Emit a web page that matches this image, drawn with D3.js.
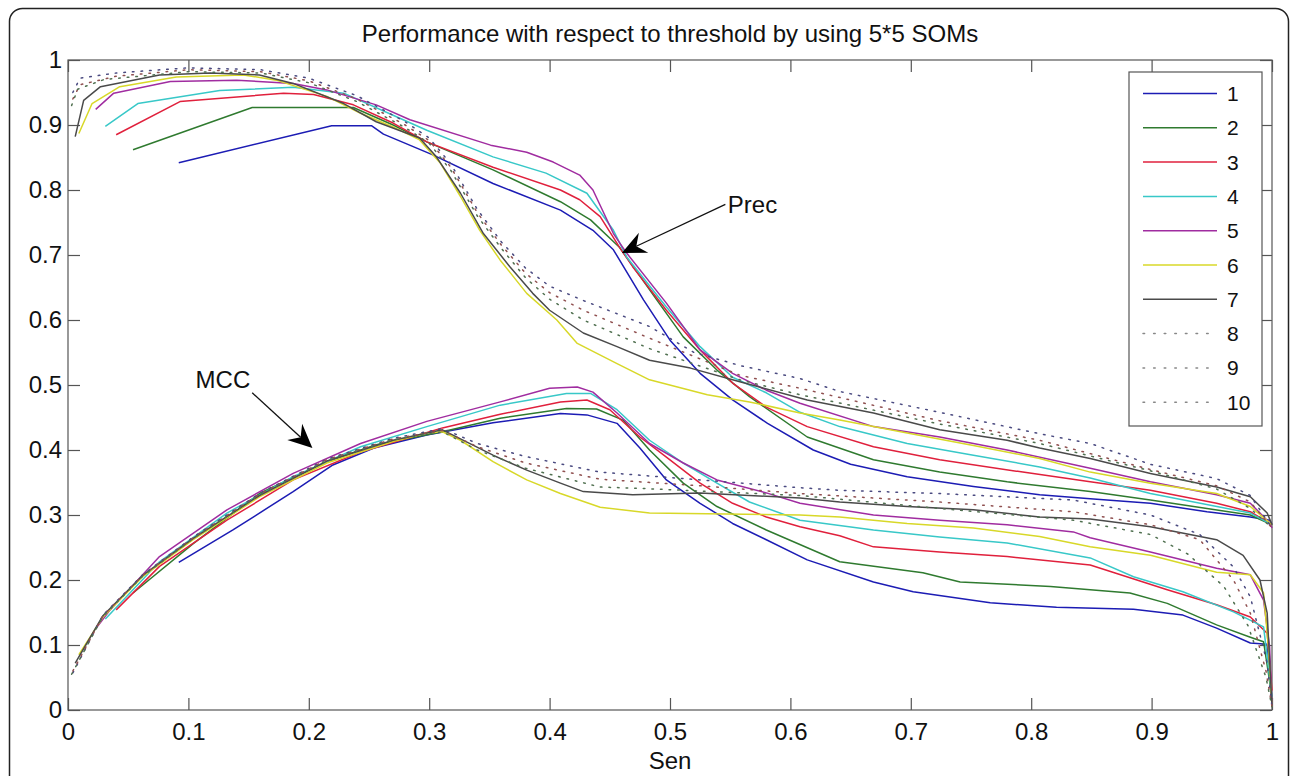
<!DOCTYPE html>
<html>
<head>
<meta charset="utf-8">
<title>Performance with respect to threshold</title>
<script src="https://cdn.jsdelivr.net/npm/d3@7"></script>
<style>
    body { margin: 0; background: white; }
    .frame { fill: none; stroke: #222; stroke-width: 1.5px; }
    .box { fill: none; stroke: #555; stroke-width: 1.2px; }
    .axis path { stroke: #555; stroke-width: 1.2px; }
    .axis line { stroke: #555; stroke-width: 1.2px; }
    .axis text { font-family: "Liberation Sans", Arial, sans-serif; font-size: 24px; fill: #111; }
    .title, .xlabel, .note { font-family: "Liberation Sans", Arial, sans-serif; font-size: 24px; fill: #111; }
    .curve { fill: none; stroke-width: 1.5px; stroke-linejoin: round; }
    .legendText { font-family: "Liberation Sans", Arial, sans-serif; font-size: 21px; fill: #111; }
</style>
</head>
<body>
<script>
// tick values
const xTicks = [0, 0.1, 0.2, 0.3, 0.4, 0.5, 0.6, 0.7, 0.8, 0.9, 1];
const yTicks = [0, 0.1, 0.2, 0.3, 0.4, 0.5, 0.6, 0.7, 0.8, 0.9, 1];
const seriesNames = ["1", "2", "3", "4", "5", "6", "7", "8", "9", "10"];

// Prec curves, [Sen, Prec]
const prec1 = [[0.092,0.842],[0.219,0.899],[0.252,0.899],[0.262,0.886],[0.303,0.854],[0.353,0.81],[0.409,0.769],[0.436,0.738],[0.453,0.708],[0.478,0.631],[0.5,0.569],[0.525,0.518],[0.552,0.477],[0.581,0.441],[0.619,0.4],[0.65,0.378],[0.697,0.359],[0.752,0.344],[0.807,0.331],[0.849,0.325],[0.899,0.318],[0.946,0.305],[0.982,0.297],[0.998,0.292],[1,0.285]];
const prec2 = [[0.054,0.862],[0.153,0.927],[0.237,0.927],[0.27,0.9],[0.298,0.874],[0.353,0.831],[0.409,0.782],[0.434,0.754],[0.458,0.712],[0.489,0.631],[0.511,0.574],[0.539,0.523],[0.566,0.482],[0.614,0.42],[0.669,0.385],[0.724,0.366],[0.78,0.351],[0.849,0.336],[0.899,0.323],[0.982,0.3],[1,0.285]];
const prec3 = [[0.04,0.885],[0.093,0.936],[0.179,0.949],[0.204,0.947],[0.237,0.931],[0.27,0.903],[0.298,0.874],[0.353,0.835],[0.409,0.8],[0.425,0.785],[0.442,0.759],[0.458,0.712],[0.469,0.682],[0.497,0.615],[0.525,0.554],[0.552,0.503],[0.58,0.466],[0.614,0.436],[0.669,0.405],[0.724,0.385],[0.793,0.366],[0.849,0.351],[0.899,0.338],[0.954,0.318],[0.982,0.305],[1,0.285]];
const prec4 = [[0.031,0.898],[0.058,0.933],[0.126,0.953],[0.187,0.958],[0.229,0.949],[0.27,0.915],[0.298,0.892],[0.353,0.851],[0.397,0.826],[0.431,0.795],[0.453,0.738],[0.464,0.697],[0.497,0.62],[0.525,0.559],[0.552,0.512],[0.58,0.488],[0.608,0.458],[0.641,0.436],[0.697,0.41],[0.752,0.392],[0.807,0.374],[0.849,0.357],[0.899,0.333],[0.982,0.303],[1,0.285]];
const prec5 = [[0.023,0.924],[0.038,0.949],[0.085,0.967],[0.14,0.969],[0.187,0.964],[0.215,0.954],[0.256,0.931],[0.284,0.908],[0.351,0.869],[0.381,0.858],[0.403,0.843],[0.425,0.823],[0.436,0.8],[0.453,0.733],[0.464,0.703],[0.497,0.626],[0.525,0.554],[0.552,0.518],[0.58,0.492],[0.608,0.472],[0.669,0.436],[0.724,0.42],[0.78,0.4],[0.849,0.372],[0.899,0.351],[0.954,0.331],[0.982,0.318],[0.998,0.288],[1,0.28]];
const prec6 = [[0.009,0.887],[0.02,0.933],[0.043,0.959],[0.09,0.974],[0.146,0.977],[0.173,0.969],[0.215,0.944],[0.243,0.918],[0.27,0.897],[0.292,0.877],[0.309,0.842],[0.326,0.79],[0.342,0.738],[0.359,0.692],[0.381,0.641],[0.406,0.6],[0.423,0.564],[0.456,0.533],[0.483,0.508],[0.531,0.485],[0.566,0.474],[0.608,0.457],[0.641,0.446],[0.697,0.426],[0.752,0.407],[0.807,0.387],[0.849,0.366],[0.899,0.349],[0.954,0.333],[0.982,0.313],[1,0.285]];
const prec7 = [[0.006,0.882],[0.013,0.938],[0.027,0.959],[0.076,0.977],[0.118,0.98],[0.159,0.977],[0.187,0.964],[0.229,0.933],[0.256,0.905],[0.292,0.88],[0.306,0.851],[0.326,0.795],[0.345,0.733],[0.367,0.682],[0.386,0.641],[0.4,0.615],[0.428,0.58],[0.456,0.559],[0.483,0.538],[0.517,0.526],[0.558,0.505],[0.614,0.477],[0.669,0.457],[0.724,0.431],[0.78,0.415],[0.807,0.403],[0.849,0.387],[0.899,0.364],[0.954,0.343],[0.982,0.328],[0.996,0.303],[1,0.285]];
const prec8 = [[0.004,0.95],[0.01,0.972],[0.04,0.98],[0.1,0.988],[0.16,0.985],[0.2,0.972],[0.24,0.945],[0.28,0.905],[0.3,0.88],[0.318,0.84],[0.34,0.77],[0.36,0.72],[0.38,0.68],[0.4,0.652],[0.428,0.63],[0.483,0.59],[0.52,0.55],[0.558,0.53],[0.608,0.51],[0.641,0.49],[0.724,0.458],[0.807,0.425],[0.849,0.41],[0.899,0.378],[0.954,0.356],[0.982,0.33],[1,0.28]];
const prec9 = [[0.004,0.94],[0.01,0.962],[0.04,0.975],[0.1,0.985],[0.16,0.982],[0.2,0.968],[0.24,0.94],[0.28,0.9],[0.3,0.876],[0.318,0.835],[0.34,0.765],[0.36,0.715],[0.38,0.672],[0.4,0.642],[0.428,0.615],[0.483,0.572],[0.558,0.515],[0.608,0.495],[0.724,0.445],[0.807,0.415],[0.899,0.37],[0.954,0.345],[0.982,0.32],[1,0.28]];
const prec10 = [[0.003,0.93],[0.008,0.955],[0.03,0.97],[0.1,0.982],[0.16,0.98],[0.2,0.965],[0.24,0.936],[0.28,0.896],[0.3,0.872],[0.318,0.83],[0.34,0.76],[0.36,0.71],[0.38,0.665],[0.4,0.632],[0.428,0.6],[0.483,0.556],[0.558,0.508],[0.608,0.485],[0.724,0.44],[0.807,0.41],[0.899,0.368],[0.954,0.34],[0.982,0.31],[1,0.28]];

// MCC curves, [Sen, MCC]
const mcc1 = [[0.092,0.227],[0.137,0.277],[0.187,0.336],[0.22,0.377],[0.254,0.403],[0.298,0.423],[0.353,0.442],[0.409,0.456],[0.431,0.454],[0.456,0.441],[0.475,0.403],[0.497,0.354],[0.525,0.318],[0.552,0.287],[0.58,0.262],[0.614,0.231],[0.669,0.197],[0.702,0.182],[0.766,0.165],[0.821,0.158],[0.885,0.155],[0.926,0.146],[0.954,0.126],[0.982,0.103],[0.996,0.101],[1,0.01]];
const mcc2 = [[0.054,0.18],[0.104,0.256],[0.159,0.333],[0.215,0.382],[0.256,0.408],[0.311,0.428],[0.359,0.449],[0.414,0.464],[0.439,0.463],[0.461,0.446],[0.483,0.4],[0.511,0.349],[0.539,0.313],[0.58,0.277],[0.641,0.228],[0.71,0.211],[0.741,0.197],[0.816,0.19],[0.882,0.18],[0.913,0.164],[0.954,0.131],[0.982,0.112],[0.993,0.105],[1,0.02]];
const mcc3 = [[0.04,0.154],[0.076,0.221],[0.132,0.292],[0.187,0.354],[0.243,0.397],[0.311,0.434],[0.359,0.455],[0.409,0.474],[0.431,0.477],[0.45,0.462],[0.475,0.42],[0.497,0.389],[0.525,0.349],[0.552,0.318],[0.58,0.297],[0.608,0.282],[0.641,0.268],[0.669,0.251],[0.724,0.243],[0.78,0.236],[0.849,0.223],[0.871,0.21],[0.913,0.185],[0.954,0.162],[0.982,0.143],[0.996,0.118],[1,0.03]];
const mcc4 = [[0.031,0.14],[0.076,0.228],[0.132,0.303],[0.187,0.359],[0.243,0.405],[0.298,0.436],[0.359,0.469],[0.414,0.487],[0.434,0.487],[0.456,0.462],[0.483,0.415],[0.511,0.38],[0.539,0.349],[0.566,0.32],[0.608,0.292],[0.669,0.277],[0.724,0.266],[0.78,0.257],[0.849,0.234],[0.885,0.205],[0.926,0.182],[0.968,0.151],[0.993,0.128],[1,0.02]];
const mcc5 = [[0.023,0.125],[0.035,0.154],[0.076,0.236],[0.132,0.308],[0.187,0.364],[0.243,0.41],[0.298,0.444],[0.359,0.474],[0.4,0.495],[0.423,0.497],[0.436,0.489],[0.456,0.457],[0.483,0.41],[0.511,0.38],[0.539,0.354],[0.58,0.334],[0.608,0.318],[0.669,0.3],[0.724,0.292],[0.78,0.285],[0.835,0.274],[0.849,0.265],[0.899,0.243],[0.954,0.218],[0.982,0.208],[0.993,0.169],[0.998,0.097],[1,0.005]];
const mcc6 = [[0.009,0.085],[0.029,0.143],[0.062,0.205],[0.104,0.262],[0.159,0.328],[0.215,0.38],[0.27,0.413],[0.298,0.426],[0.311,0.428],[0.326,0.415],[0.353,0.382],[0.381,0.354],[0.409,0.333],[0.442,0.312],[0.483,0.303],[0.608,0.3],[0.641,0.297],[0.697,0.287],[0.752,0.28],[0.807,0.267],[0.849,0.251],[0.899,0.238],[0.954,0.212],[0.982,0.208],[0.993,0.18],[0.997,0.097],[1,0.005]];
const mcc7 = [[0.006,0.072],[0.029,0.145],[0.062,0.207],[0.104,0.264],[0.159,0.33],[0.215,0.383],[0.27,0.415],[0.311,0.431],[0.353,0.392],[0.381,0.369],[0.409,0.349],[0.428,0.336],[0.469,0.331],[0.525,0.334],[0.608,0.326],[0.641,0.32],[0.697,0.313],[0.752,0.308],[0.807,0.297],[0.849,0.294],[0.899,0.282],[0.954,0.262],[0.976,0.238],[0.99,0.2],[0.996,0.149],[1,0.005]];
const mcc8 = [[0.004,0.057],[0.029,0.146],[0.062,0.208],[0.104,0.266],[0.159,0.333],[0.215,0.386],[0.27,0.418],[0.311,0.433],[0.34,0.41],[0.38,0.39],[0.442,0.366],[0.525,0.354],[0.608,0.342],[0.641,0.338],[0.724,0.333],[0.835,0.323],[0.899,0.3],[0.94,0.27],[0.968,0.22],[0.982,0.174],[0.996,0.072],[1,0.005]];
const mcc9 = [[0.004,0.06],[0.029,0.145],[0.062,0.207],[0.104,0.265],[0.159,0.332],[0.215,0.385],[0.27,0.417],[0.311,0.43],[0.34,0.405],[0.38,0.38],[0.442,0.355],[0.525,0.345],[0.608,0.333],[0.724,0.32],[0.835,0.305],[0.899,0.285],[0.94,0.262],[0.968,0.2],[0.982,0.149],[0.995,0.06],[1,0.005]];
const mcc10 = [[0.003,0.055],[0.029,0.144],[0.062,0.206],[0.104,0.264],[0.159,0.331],[0.215,0.384],[0.27,0.416],[0.311,0.428],[0.34,0.4],[0.38,0.372],[0.442,0.343],[0.475,0.341],[0.608,0.33],[0.724,0.31],[0.835,0.292],[0.899,0.27],[0.93,0.24],[0.96,0.19],[0.98,0.13],[0.995,0.05],[1,0.005]];

const precSeries = [prec1, prec2, prec3, prec4, prec5, prec6, prec7, prec8, prec9, prec10];
const mccSeries = [mcc1, mcc2, mcc3, mcc4, mcc5, mcc6, mcc7, mcc8, mcc9, mcc10];

// styles per series
const colors = ["#1c1cb4", "#2f7a2f", "#e0203c", "#38c8c8", "#a02ca0", "#d8d828", "#4a4a4a", "#4a4a80", "#905050", "#507050"];
const dotted = [false, false, false, false, false, false, false, true, true, true];

// annotations in data coordinates
const precLabel = {text: "Prec", x: 0.548, y: 0.765, from: [0.546, 0.778], to: [0.46, 0.703]};
const mccLabel = {text: "MCC", x: 0.106, y: 0.495, from: [0.153, 0.488], to: [0.203, 0.403]};

const W = 1292, H = 776;
const svg = d3.select("body").append("svg").attr("width", W).attr("height", H);
svg.append("rect").attr("width", W).attr("height", H).attr("fill", "white");
svg.append("rect").attr("class", "frame")
    .attr("x", 9.5).attr("y", 8.5).attr("width", 1279).attr("height", 830).attr("rx", 13);

const x = d3.scaleLinear().domain([0, 1]).range([68, 1272]);
const y = d3.scaleLinear().domain([0, 1]).range([710, 60]);

svg.append("text").attr("class", "title")
    .attr("x", (x(0) + x(1)) / 2).attr("y", 42).attr("text-anchor", "middle")
    .text("Performance with respect to threshold by using 5*5 SOMs");

const fmt = d3.format("~g");

svg.append("g").attr("class", "axis").attr("transform", "translate(0," + y(0) + ")")
    .call(d3.axisBottom(x).tickValues(xTicks).tickSize(-12).tickSizeOuter(0).tickPadding(13).tickFormat(fmt));
svg.append("g").attr("class", "axis").attr("transform", "translate(" + x(0) + ",0)")
    .call(d3.axisLeft(y).tickValues(yTicks).tickSize(-12).tickSizeOuter(0).tickPadding(6).tickFormat(fmt));
svg.append("g").attr("class", "axis").attr("transform", "translate(0," + y(1) + ")")
    .call(d3.axisTop(x).tickValues(xTicks).tickSize(-12).tickSizeOuter(0).tickFormat(""));
svg.append("g").attr("class", "axis").attr("transform", "translate(" + x(1) + ",0)")
    .call(d3.axisRight(y).tickValues(yTicks).tickSize(-12).tickSizeOuter(0).tickFormat(""));
svg.selectAll(".axis .domain").remove();
svg.append("rect").attr("class", "box")
    .attr("x", x(0)).attr("y", y(1)).attr("width", x(1) - x(0)).attr("height", y(0) - y(1));

svg.append("text").attr("class", "xlabel")
    .attr("x", (x(0) + x(1)) / 2).attr("y", 769).attr("text-anchor", "middle").text("Sen");

const line = d3.line().x(d => x(d[0])).y(d => y(d[1]));
const plot = svg.append("g");

function drawSet(set) {
    plot.selectAll(null).data(set).enter().append("path")
        .attr("class", "curve")
        .attr("d", line)
        .attr("stroke", (d, i) => colors[i])
        .attr("stroke-dasharray", (d, i) => dotted[i] ? "1.6,7" : null)
        .attr("stroke-linecap", (d, i) => dotted[i] ? "round" : "butt");
}
drawSet(precSeries);
drawSet(mccSeries);

// arrows
function arrow(a) {
    const sx = x(a.from[0]), sy = y(a.from[1]), tx = x(a.to[0]), ty = y(a.to[1]);
    const ang = Math.atan2(ty - sy, tx - sx);
    const len = 24, half = 11, back = 16;
    const bx = tx - len * Math.cos(ang), by = ty - len * Math.sin(ang);
    const nx = -Math.sin(ang), ny = Math.cos(ang);
    const mx = tx - back * Math.cos(ang), my = ty - back * Math.sin(ang);
    svg.append("line").attr("x1", sx).attr("y1", sy).attr("x2", mx).attr("y2", my)
        .attr("stroke", "#111").attr("stroke-width", 1.3);
    svg.append("path")
        .attr("d", "M" + tx + "," + ty + "L" + (bx + nx * half) + "," + (by + ny * half) +
            "L" + mx + "," + my + "L" + (bx - nx * half) + "," + (by - ny * half) + "Z")
        .attr("fill", "#000");
    svg.append("text").attr("class", "note").attr("x", x(a.x)).attr("y", y(a.y)).text(a.text);
}
arrow(precLabel);
arrow(mccLabel);

// legend
const legend = svg.append("g");
legend.append("rect").attr("x", 1129).attr("y", 72).attr("width", 133).attr("height", 354)
    .attr("fill", "white").attr("stroke", "#555").attr("stroke-width", 1.2);
const item = legend.selectAll(null).data(seriesNames).enter().append("g")
    .attr("transform", (d, i) => "translate(0," + (93.5 + i * 34.3) + ")");
item.append("line").attr("x1", 1143).attr("x2", 1217)
    .attr("stroke", (d, i) => dotted[i] ? "#888" : colors[i])
    .attr("stroke-width", 1.5)
    .attr("stroke-dasharray", (d, i) => dotted[i] ? "1.6,9" : null)
    .attr("stroke-linecap", (d, i) => dotted[i] ? "round" : "butt");
item.append("text").attr("class", "legendText").attr("x", 1227).attr("dy", "0.36em").text(d => d);
</script>
</body>
</html>
